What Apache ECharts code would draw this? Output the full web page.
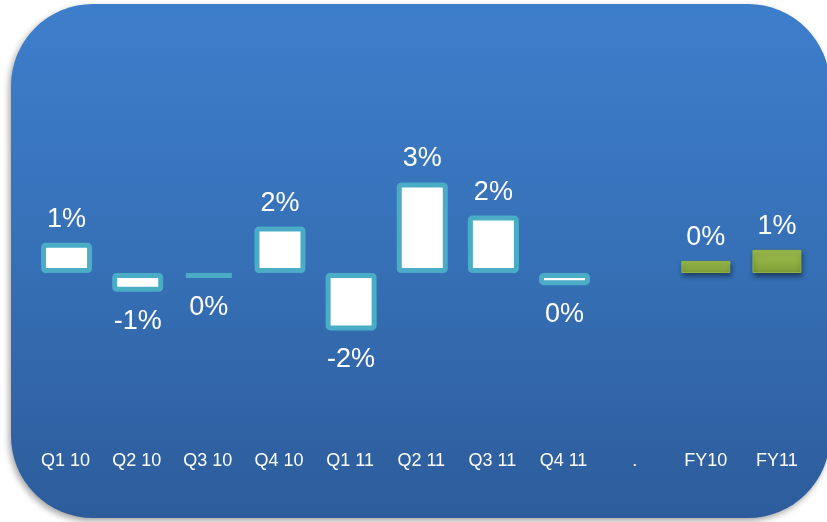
<!DOCTYPE html>
<html>
<head>
<meta charset="utf-8">
<script src="https://cdn.jsdelivr.net/npm/echarts@6/dist/echarts.min.js"></script>
<style>
  html, body { margin: 0; padding: 0; background: #ffffff; }
  #chart { width: 827px; height: 522px; }
</style>
</head>
<body>
<div id="chart"></div>
<script>
// Quarterly growth (%) and full-year growth (%)
const quarterLabels = ['Q1 10', 'Q2 10', 'Q3 10', 'Q4 10', 'Q1 11', 'Q2 11', 'Q3 11', 'Q4 11'];
const quarterValues = [1.04, -0.65, -0.17, 1.6, -1.98, 3.12, 1.98, -0.42];
const spacerLabel = '.';
const yearLabels = ['FY10', 'FY11'];
const yearValues = [0.42, 0.8];

const categories = [...quarterLabels, spacerLabel, ...yearLabels];
const FONT = 'Arial, "Liberation Sans", sans-serif';

function pct(p) { return Math.round(p.value) + '%'; }

function labelFor(v) {
  return v < 0
    ? { position: 'bottom', distance: 16 }
    : { position: 'top', distance: 10 };
}

const quarterData = categories.map((c, i) =>
  i < quarterValues.length
    ? { value: quarterValues[i], label: labelFor(quarterValues[i]) }
    : '-');

const yearData = categories.map((c, i) => {
  const k = i - (quarterLabels.length + 1);
  return k >= 0 ? { value: yearValues[k], label: labelFor(yearValues[k]) } : '-';
});

const chart = echarts.init(document.getElementById('chart'), null, { renderer: 'canvas' });

chart.setOption({
  animation: false,
  backgroundColor: '#ffffff',
  graphic: [{
    type: 'rect',
    z: -10,
    silent: true,
    shape: { x: 11, y: 4, width: 819, height: 514, r: 82 },
    style: {
      fill: new echarts.graphic.LinearGradient(0, 0, 0, 1, [
        { offset: 0, color: '#3D7ECB' },
        { offset: 0.5, color: '#3670B6' },
        { offset: 1, color: '#2D5C9B' }
      ]),
      shadowBlur: 6,
      shadowOffsetX: -2,
      shadowOffsetY: 3,
      shadowColor: 'rgba(0,0,0,0.35)'
    }
  }],
  grid: { left: 30, right: 14.5, top: 157, height: 290 },
  xAxis: {
    type: 'category',
    data: categories,
    axisLine: { show: false },
    axisTick: { show: false },
    axisLabel: { color: '#ffffff', fontSize: 18, fontFamily: FONT, margin: 5, interval: 0 }
  },
  yAxis: {
    type: 'value',
    min: -6,
    max: 4,
    show: false,
    splitLine: { show: false }
  },
  series: [
    {
      type: 'bar',
      data: quarterData,
      barWidth: 51,
      barGap: '-100%',
      itemStyle: {
        color: '#ffffff',
        borderColor: '#4BACC6',
        borderWidth: 5,
        borderRadius: 2
      },
      label: {
        show: true,
        color: '#ffffff',
        fontSize: 27,
        fontFamily: FONT,
        formatter: pct
      }
    },
    {
      type: 'bar',
      data: yearData,
      barWidth: 49,
      itemStyle: {
        color: new echarts.graphic.LinearGradient(0, 0, 0, 1, [
          { offset: 0, color: '#A2C24F' },
          { offset: 1, color: '#7E9E38' }
        ]),
        borderColor: '#8FB044',
        borderWidth: 1,
        shadowBlur: 5,
        shadowOffsetX: 1,
        shadowOffsetY: 3,
        shadowColor: 'rgba(0,0,0,0.45)'
      },
      label: {
        show: true,
        color: '#ffffff',
        fontSize: 27,
        fontFamily: FONT,
        formatter: pct
      }
    }
  ]
});
</script>
</body>
</html>
